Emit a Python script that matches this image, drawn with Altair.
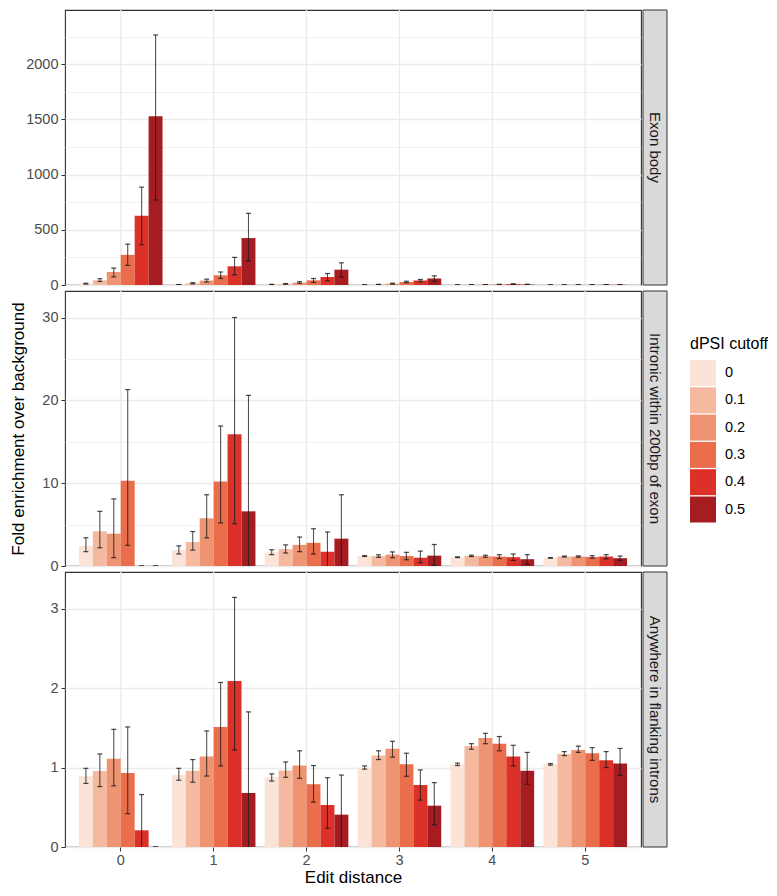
import altair as alt
import pandas as pd

# ---------------- data ----------------
dist = ["0", "1", "2", "3", "4", "5"]
dpsi = ["0", "0.1", "0.2", "0.3", "0.4", "0.5"]
colors = ["#fbe3d8", "#f4b99e", "#ef9472", "#ea6e4c", "#dc3128", "#a51c21"]
panel_labels = ["Exon body", "Intronic within 200bp of exon", "Anywhere in flanking introns"]

# rows = edit distance 0..5, columns = dPSI cutoff 0..0.5
exon_val = [[12, 44, 118, 273, 628, 1529],
            [3, 15, 40, 88, 169, 425],
            [4, 10, 22, 42, 72, 139],
            [2, 4, 12, 27, 41, 59],
            [1, 2, 3, 4, 8, 4],
            [1, 1, 1.5, 1.5, 2, 2]]
exon_lo = [[8, 32, 74, 178, 364, 770],
           [2, 10, 27, 59, 92, 220],
           [2, 7, 15, 24, 39, 74],
           [1, 2, 8, 20, 30, 33],
           [0.5, 1, 2, 2, 4, 1],
           [0.5, 0.5, 1, 1, 1, 1]]
exon_hi = [[16, 57, 153, 370, 886, 2264],
           [4, 21, 53, 118, 250, 649],
           [6, 13, 30, 59, 104, 201],
           [3, 6, 16, 34, 50, 83],
           [1.5, 3, 4, 6, 12, 7],
           [1.5, 1.5, 2, 2, 3, 3]]

intr_val = [[2.43, 4.2, 3.9, 10.3, 0, 0],
            [1.92, 2.9, 5.76, 10.2, 15.9, 6.6],
            [1.65, 2.04, 2.55, 2.8, 1.73, 3.3],
            [1.2, 1.2, 1.37, 1.2, 1.0, 1.25],
            [1.06, 1.22, 1.18, 1.14, 1.06, 0.82],
            [0.98, 1.14, 1.14, 1.1, 1.14, 0.94]]
intr_lo = [[1.73, 2.2, 1.0, 2.5, 0, 0],
           [1.45, 1.92, 3.4, 5.2, 5.1, -7.4],
           [1.37, 1.57, 1.73, 1.45, -0.64, -2.0],
           [1.15, 1.05, 1.0, 0.75, 0.4, 0.1],
           [1.02, 1.14, 1.06, 0.9, 0.67, 0.2],
           [0.95, 1.08, 1.06, 0.95, 0.86, 0.67]]
intr_hi = [[3.41, 6.6, 8.1, 21.3, 0, 0],
           [2.43, 4.16, 8.6, 16.9, 30.0, 20.6],
           [1.96, 2.55, 3.5, 4.5, 4.1, 8.6],
           [1.25, 1.35, 1.7, 1.65, 1.8, 2.6],
           [1.1, 1.3, 1.3, 1.37, 1.45, 1.37],
           [1.01, 1.2, 1.22, 1.25, 1.37, 1.2]]

flank_val = [[0.893, 0.955, 1.11, 0.93, 0.21, 0],
             [0.905, 0.96, 1.14, 1.51, 2.09, 0.68],
             [0.877, 0.963, 1.025, 0.79, 0.53, 0.407],
             [1.0, 1.15, 1.235, 1.04, 0.78, 0.52],
             [1.04, 1.27, 1.37, 1.30, 1.14, 0.96],
             [1.04, 1.17, 1.22, 1.18, 1.09, 1.05]]
flank_lo = [[0.80, 0.76, 0.77, 0.42, -0.24, 0],
            [0.84, 0.815, 0.893, 1.02, 1.22, -0.34],
            [0.83, 0.877, 0.864, 0.564, 0.235, -0.09],
            [0.98, 1.10, 1.13, 0.89, 0.59, 0.28],
            [1.025, 1.23, 1.30, 1.21, 1.02, 0.79],
            [1.03, 1.15, 1.19, 1.09, 1.0, 0.9]]
flank_hi = [[0.99, 1.17, 1.48, 1.51, 0.66, 0],
            [0.99, 1.10, 1.46, 2.07, 3.14, 1.70],
            [0.92, 1.07, 1.21, 1.025, 0.872, 0.905],
            [1.02, 1.21, 1.33, 1.18, 0.97, 0.81],
            [1.055, 1.30, 1.43, 1.39, 1.28, 1.19],
            [1.05, 1.20, 1.27, 1.25, 1.20, 1.24]]

exon_ticks = [0, 250, 500, 750, 1000, 1250, 1500, 1750, 2000, 2250]
intr_ticks = [0, 5, 10, 15, 20, 25, 30]
flank_ticks = [0, 0.5, 1, 1.5, 2, 2.5, 3]

# ---------------- layout ----------------
W = 576
H = 275
FONT = "Liberation Sans"
EB_COLOR = "#1a1a1a"


def make_df(val, lo, hi):
    rows = []
    for i, d in enumerate(dist):
        for j, p in enumerate(dpsi):
            rows.append({"dist": d, "dpsi": p, "value": val[i][j],
                         "lo": lo[i][j], "hi": hi[i][j]})
    return pd.DataFrame(rows)


def panel(df, label, ymax, ticks, major, bottom, title_visible):
    minor = f"datum.value % {major} !== 0"
    yaxis = alt.Axis(
        values=ticks, format="d", labelOverlap=False,
        labelExpr=f"{minor} ? '' : datum.label",
        tickColor={"condition": {"test": minor, "value": "transparent"}, "value": "#333333"},
        gridWidth={"condition": {"test": minor, "value": 0.7}, "value": 1.3},
        titleX=-42, titleY=H / 2, titleBaseline="alphabetic",
        titleOpacity=1 if title_visible else 0,
    )
    yscale = alt.Scale(domain=[0, ymax], nice=False, zero=True)
    if bottom:
        xaxis = alt.Axis(title="Edit distance", labelAngle=0, bandPosition=0.5,
                         grid=False, domain=False, titlePadding=3, labelPadding=2)
    else:
        xaxis = None
    xscale = alt.Scale(paddingInner=0.1, paddingOuter=0.15)
    x = alt.X("dist:N", sort=dist, axis=xaxis, scale=xscale)
    xo = alt.XOffset("dpsi:N", sort=dpsi,
                     scale=alt.Scale(paddingInner=0, paddingOuter=0))
    ytitle = "Fold enrichment over background"

    base = alt.Chart(df)
    gdf = pd.DataFrame({"dist": dist})
    vgrid = alt.Chart(gdf).mark_rule(color="#ebebeb", strokeWidth=1.3).encode(
        x=alt.X("dist:N", sort=dist, axis=xaxis, scale=xscale),
        y=alt.value(0), y2=alt.value(H),
    )
    bars = base.mark_bar(clip=True).encode(
        x=x, xOffset=xo,
        y=alt.Y("value:Q", scale=yscale, axis=yaxis, title=ytitle),
        color=alt.Color("dpsi:N", sort=dpsi,
                        scale=alt.Scale(domain=dpsi, range=colors),
                        legend=alt.Legend(title="dPSI cutoff", orient="none",
                                          legendX=625, legendY=326)),
    )
    rules = base.mark_rule(clip=True, color=EB_COLOR, opacity=0.75, strokeWidth=1.1).encode(
        x=x, xOffset=xo,
        y=alt.Y("lo:Q", scale=yscale, axis=yaxis, title=ytitle),
        y2="hi:Q",
    )
    cap_lo = base.mark_tick(clip=True, color=EB_COLOR, opacity=0.8, orient="horizontal",
                            size=5, thickness=1.2).encode(
        x=x, xOffset=xo,
        y=alt.Y("lo:Q", scale=yscale, axis=yaxis, title=ytitle),
    )
    cap_hi = base.mark_tick(clip=True, color=EB_COLOR, opacity=0.8, orient="horizontal",
                            size=5, thickness=1.2).encode(
        x=x, xOffset=xo,
        y=alt.Y("hi:Q", scale=yscale, axis=yaxis, title=ytitle),
    )
    sdf = pd.DataFrame({"label": [label]})
    strip = alt.Chart(sdf).mark_rect(fill="#d9d9d9", stroke="#333333", strokeWidth=1).encode(
        x=alt.value(W + 2), x2=alt.value(W + 26), y=alt.value(0), y2=alt.value(H)
    )
    strip_text = alt.Chart(sdf).mark_text(angle=90, fontSize=15, color="#1a1a1a",
                                          align="center", baseline="middle", font=FONT).encode(
        x=alt.value(W + 14), y=alt.value(H / 2), text="label:N"
    )
    return alt.layer(vgrid, bars, rules, cap_lo, cap_hi, strip, strip_text).properties(width=W, height=H)


p1 = panel(make_df(exon_val, exon_lo, exon_hi), panel_labels[0], 2490, exon_ticks, 500, False, False)
p2 = panel(make_df(intr_val, intr_lo, intr_hi), panel_labels[1], 33.2, intr_ticks, 10, False, True)
p3 = panel(make_df(flank_val, flank_lo, flank_hi), panel_labels[2], 3.46, flank_ticks, 1, True, False)

chart = (
    alt.vconcat(p1, p2, p3, spacing=6, bounds="flush")
    .resolve_scale(y="independent", color="shared")
    .properties(padding=0)
    .configure(font=FONT)
    .configure_view(stroke="#333333", strokeWidth=1.1)
    .configure_axis(
        labelFont=FONT, labelFontSize=14.5, labelColor="#4d4d4d",
        tickColor="#333333", tickSize=4, tickWidth=1,
        titleFont=FONT, titleFontSize=17, titleFontWeight="normal", titleColor="#000000",
        gridColor="#ebebeb", domain=False, labelPadding=3,
    )
    .configure_legend(
        symbolType="square", symbolSize=676, symbolStrokeWidth=0, symbolOpacity=1,
        labelFont=FONT, labelFontSize=14.5, labelColor="#000000", labelOffset=9,
        titleFont=FONT, titleFontSize=16, titleFontWeight="normal", titleColor="#000000",
        titlePadding=8, rowPadding=1.3, padding=0,
    )
)

chart.save("out.html", embed_options={"renderer": "svg", "actions": False})
